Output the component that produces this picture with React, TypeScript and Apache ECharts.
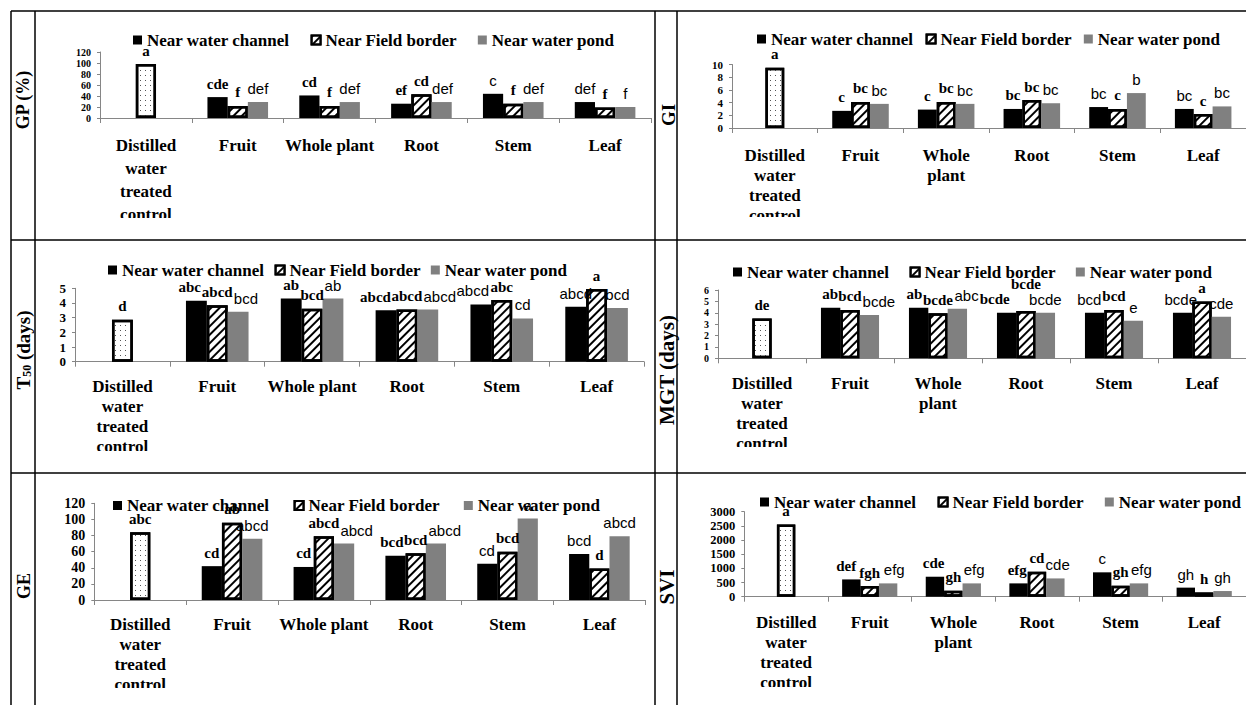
import React, { useEffect, useRef } from "react";
import * as echarts from "echarts";

const SERIES_NAMES = ["Near water channel", "Near Field border", "Near water pond"];
const CATS_ONE_LINE = ["Distilled\nwater\ntreated\ncontrol", "Fruit", "Whole plant", "Root", "Stem", "Leaf"];
const CATS_TWO_LINE = ["Distilled\nwater\ntreated\ncontrol", "Fruit", "Whole\nplant", "Root", "Stem", "Leaf"];

// GP (%)
const gpChannel = [null, 38, 41, 26, 44, 29];
const gpBorder = [98, 22, 22, 43, 26, 19];
const gpPond = [null, 29, 29, 29, 29, 20];
const gpChannelSig = ["", "cde", "cd", "ef", "c", "def"];
const gpBorderSig = ["a", "f", "f", "cd", "f", "f"];
const gpPondSig = ["", "def", "def", "def", "def", "f"];
const gpTicks = [0, 120, 20];

// GI
const giChannel = [null, 2.7, 2.9, 3.0, 3.3, 3.0];
const giBorder = [9.5, 4.1, 4.1, 4.4, 3.0, 2.2];
const giPond = [null, 3.8, 3.8, 3.9, 5.5, 3.4];
const giChannelSig = ["", "c", "c", "bc", "bc", "bc"];
const giBorderSig = ["a", "bc", "bc", "bc", "c", "c"];
const giPondSig = ["", "bc", "bc", "bc", "b", "bc"];
const giTicks = [0, 10, 2];

// T50 (days)
const t50Channel = [null, 4.15, 4.3, 3.5, 3.9, 3.75];
const t50Border = [2.85, 3.85, 3.6, 3.55, 4.2, 4.95];
const t50Pond = [null, 3.4, 4.3, 3.55, 2.95, 3.65];
const t50ChannelSig = ["", "abc", "ab", "abcd", "abcd", "abcd"];
const t50BorderSig = ["d", "abcd", "bcd", "abcd", "abc", "a"];
const t50PondSig = ["", "bcd", "ab", "abcd", "cd", "bcd"];
const t50Ticks = [0, 5, 1];

// MGT (days)
const mgtChannel = [null, 4.45, 4.45, 4.0, 4.0, 4.0];
const mgtBorder = [3.5, 4.25, 3.95, 4.15, 4.25, 5.0];
const mgtPond = [null, 3.8, 4.35, 4.0, 3.3, 3.65];
const mgtChannelSig = ["", "ab", "ab", "bcde", "bcd", "bcde"];
const mgtBorderSig = ["de", "bcd", "bcde", "bcde", "bcd", "a"];
const mgtPondSig = ["", "bcde", "abc", "bcde", "e", "cde"];
const mgtTicks = [0, 6, 1];

// GE
const geChannel = [null, 42, 41, 55, 45, 57];
const geBorder = [84, 96, 79, 58, 60, 39];
const gePond = [null, 76, 70, 70, 101, 79];
const geChannelSig = ["", "cd", "cd", "bcd", "cd", "bcd"];
const geBorderSig = ["abc", "ab", "abcd", "bcd", "bcd", "d"];
const gePondSig = ["", "abcd", "abcd", "abcd", "a", "abcd"];
const geTicks = [0, 120, 20];

// SVI
const sviChannel = [null, 610, 705, 470, 860, 320];
const sviBorder = [2550, 375, 210, 880, 390, 150];
const sviPond = [null, 470, 470, 645, 470, 200];
const sviChannelSig = ["", "def", "cde", "efg", "c", "gh"];
const sviBorderSig = ["a", "fgh", "gh", "cd", "gh", "h"];
const sviPondSig = ["", "efg", "efg", "cde", "efg", "gh"];
const sviTicks = [0, 3000, 500];

const SERIF = "Liberation Serif";
const SANS = "Liberation Sans";
const LABEL_DIST = 6;
const LABEL_H = 15;
const MAX_SHIFT = 13;

type Num = number | null;
interface Panel {
  cats: string[];
  vals: Num[][];
  sigs: string[][];
  ticks: number[];
  box: { left: number; top: number; width: number; height: number };
  legend: { left: number; top: number; gap: number };
  tickFont: number;
  catLine: number;
  catMargin: number;
}

const PANELS: Panel[] = [
  { cats: CATS_ONE_LINE, vals: [gpChannel, gpBorder, gpPond], sigs: [gpChannelSig, gpBorderSig, gpPondSig], ticks: gpTicks,
    box: { left: 100, top: 52, width: 551, height: 66 }, legend: { left: 133, top: 31.5, gap: 21 }, tickFont: 10, catLine: 23, catMargin: 16 },
  { cats: CATS_TWO_LINE, vals: [giChannel, giBorder, giPond], sigs: [giChannelSig, giBorderSig, giPondSig], ticks: giTicks,
    box: { left: 732, top: 64.5, width: 516, height: 63.5 }, legend: { left: 757, top: 30.5, gap: 12 }, tickFont: 11, catLine: 20, catMargin: 17 },
  { cats: CATS_ONE_LINE, vals: [t50Channel, t50Border, t50Pond], sigs: [t50ChannelSig, t50BorderSig, t50PondSig], ticks: t50Ticks,
    box: { left: 75, top: 288.3, width: 569, height: 73.4 }, legend: { left: 108, top: 261.5, gap: 10 }, tickFont: 13, catLine: 20, catMargin: 15 },
  { cats: CATS_TWO_LINE, vals: [mgtChannel, mgtBorder, mgtPond], sigs: [mgtChannelSig, mgtBorderSig, mgtPondSig], ticks: mgtTicks,
    box: { left: 718, top: 290, width: 531, height: 68.3 }, legend: { left: 733, top: 263.5, gap: 20 }, tickFont: 10, catLine: 20, catMargin: 15 },
  { cats: CATS_ONE_LINE, vals: [geChannel, geBorder, gePond], sigs: [geChannelSig, geBorderSig, gePondSig], ticks: geTicks,
    box: { left: 94.3, top: 503.3, width: 551, height: 96.7 }, legend: { left: 113, top: 497, gap: 24 }, tickFont: 14, catLine: 20, catMargin: 14 },
  { cats: CATS_TWO_LINE, vals: [sviChannel, sviBorder, sviPond], sigs: [sviChannelSig, sviBorderSig, sviPondSig], ticks: sviTicks,
    box: { left: 744.3, top: 511.7, width: 510, height: 85 }, legend: { left: 760, top: 493.5, gap: 21 }, tickFont: 12.5, catLine: 20, catMargin: 16 },
];

const HATCH: any = { symbol: "rect", symbolSize: 1, dashArrayX: [1, 0], dashArrayY: [1.4, 3.4], rotation: -Math.PI / 4, color: "#000" };
const DOTS: any = { symbol: "rect", symbolSize: 1, dashArrayX: [1, 4], dashArrayY: [1, 4], color: "#555" };

const SERIES_STYLES: any[] = [
  { color: "#000" },
  { color: "#fff", borderColor: "#000", borderWidth: 2.5, decal: HATCH },
  { color: "#808080" },
];

function labelFont(s: number, j: number) {
  if (s === 2) return SANS;
  if (s === 0 && j >= 4) return SANS;
  return SERIF;
}

// Separate colliding letter labels within a bar group: nudge the outer labels
// sideways when a small shift suffices, otherwise lift the middle label.
function labelOffsets(p: Panel): number[][][] {
  const k = p.box.height / (p.ticks[1] - p.ticks[0]);
  const catW = p.box.width / p.cats.length;
  const bw = (catW * 0.66) / 3;
  const out = [0, 1, 2].map(() => p.cats.map(() => [0, 0]));
  p.cats.forEach((_, j) => {
    const boxes = [0, 1, 2].map((s) => {
      const v = p.vals[s][j];
      const txt = p.sigs[s][j];
      if (v == null || !txt) return null;
      const w = txt.length * (labelFont(s, j) === SANS ? 8.3 : 7.6);
      const cx = (s - 1) * bw;
      const yb = v * k + LABEL_DIST;
      return { x0: cx - w / 2, x1: cx + w / 2, yb, yt: yb + LABEL_H };
    });
    const mid = boxes[1];
    if (!mid) return;
    let raise = 0;
    [0, 2].forEach((s) => {
      const o = boxes[s];
      if (!o) return;
      if (!(o.yb < mid.yt && o.yt > mid.yb)) return;
      const need = s === 0 ? o.x1 - mid.x0 + 1 : mid.x1 - o.x0 + 1;
      if (need <= 0) return;
      if (need <= MAX_SHIFT) out[s][j][0] = s === 0 ? -need : need;
      else raise = Math.max(raise, o.yt - mid.yb);
    });
    out[1][j][1] = raise;
  });
  return out;
}

function buildOption() {
  const grid: any[] = [];
  const xAxis: any[] = [];
  const yAxis: any[] = [];
  const series: any[] = [];
  const legend: any[] = [];
  PANELS.forEach((p, i) => {
    const offs = labelOffsets(p);
    const spacing = (p.box.height / (p.ticks[1] - p.ticks[0])) * p.ticks[2];
    grid.push({ ...p.box, containLabel: false });
    xAxis.push({
      type: "category", gridIndex: i, data: p.cats,
      axisLine: { lineStyle: { color: "#868686", width: 1 } },
      axisTick: { show: true, length: 5, lineStyle: { color: "#868686" } },
      axisLabel: { interval: 0, color: "#000", fontFamily: SERIF, fontWeight: "bold", fontSize: 17, lineHeight: p.catLine, margin: p.catMargin },
    });
    yAxis.push({
      type: "value", gridIndex: i, min: p.ticks[0], max: p.ticks[1], interval: p.ticks[2],
      splitLine: { show: false },
      axisLine: { show: true, lineStyle: { color: "#868686" } },
      axisTick: { show: true, length: 3, lineStyle: { color: "#868686" } },
      axisLabel: {
        color: "#000", fontFamily: SERIF, fontWeight: "bold", fontSize: p.tickFont, lineHeight: Math.min(spacing, p.tickFont + 2),
        margin: 9, showMinLabel: true, showMaxLabel: true, hideOverlap: false,
        formatter: (v: number) => String(v),
      },
    });
    SERIES_NAMES.forEach((name, s) => {
      const sig = p.sigs[s];
      series.push({
        type: "bar", name, xAxisIndex: i, yAxisIndex: i,
        barGap: "0%", barCategoryGap: "34%",
        itemStyle: SERIES_STYLES[s],
        label: {
          show: true, position: "top", distance: LABEL_DIST, color: "#000", fontSize: 15,
          formatter: (prm: any) => sig[prm.dataIndex] || "",
        },
        data: p.vals[s].map((v, j) =>
          v == null
            ? "-"
            : {
                value: v,
                label: {
                  fontFamily: labelFont(s, j),
                  fontWeight: labelFont(s, j) === SERIF ? "bold" : "normal",
                  offset: [offs[s][j][0], -offs[s][j][1]],
                },
                ...(s === 1 && j === 0 ? { itemStyle: { decal: DOTS } } : {}),
              }
        ),
      });
    });
    legend.push({
      left: p.legend.left, top: p.legend.top, itemGap: p.legend.gap, itemWidth: 9, itemHeight: 9,
      icon: "rect", padding: 0, selectedMode: false, data: SERIES_NAMES,
      textStyle: { fontFamily: SERIF, fontWeight: "bold", fontSize: 17, color: "#000" },
    });
  });

  const L = (x1: number, y1: number, x2: number, y2: number) => ({
    type: "line", z: 60, shape: { x1, y1, x2, y2 }, style: { stroke: "#000", lineWidth: 1.5 },
  });
  const W = (x: number, y: number, w: number, h: number) => ({
    type: "rect", z: 50, shape: { x, y, width: w, height: h }, style: { fill: "#fff" },
  });
  const T = (x: number, y: number, text: string, size: number, rich?: any) => ({
    type: "text", z: 60, x, y, rotation: Math.PI / 2,
    style: { text, fontFamily: SERIF, fontWeight: "bold", fontSize: size, fill: "#000", align: "center", verticalAlign: "middle", rich },
  });

  const graphic: any[] = [
    W(36, 218, 618, 21), W(678, 217, 570, 22),
    W(36, 451, 618, 21), W(678, 447, 570, 25),
    W(36, 688, 618, 17), W(678, 687, 570, 18),
    L(11, 11, 1246, 11), L(11, 11, 11, 705), L(35, 11, 35, 705), L(655, 11, 655, 705), L(677, 11, 677, 705),
    L(11, 240, 1246, 240), L(11, 473, 1246, 473),
    T(23, 100, "GP (%)", 18),
    T(668, 115, "GI", 19),
    T(23, 350, "{a|T}{b|50}{a| (days)}", 19, {
      a: { fontFamily: SERIF, fontWeight: "bold", fontSize: 19, verticalAlign: "bottom" },
      b: { fontFamily: SERIF, fontWeight: "bold", fontSize: 12, verticalAlign: "bottom" },
    }),
    T(667, 370, "MGT (days)", 21),
    T(24, 586, "GE", 18),
    T(667, 587, "SVI", 21),
  ];

  return { animation: false, backgroundColor: "#fff", grid, xAxis, yAxis, series, legend, graphic };
}

export default function App() {
  const ref = useRef<HTMLDivElement>(null);
  useEffect(() => {
    if (!ref.current) return;
    const chart = echarts.init(ref.current, undefined, { renderer: "svg" });
    chart.setOption(buildOption() as any);
    return () => chart.dispose();
  }, []);
  return <div ref={ref} style={{ position: "fixed", left: 0, top: 0, width: 1246, height: 705 }} />;
}
